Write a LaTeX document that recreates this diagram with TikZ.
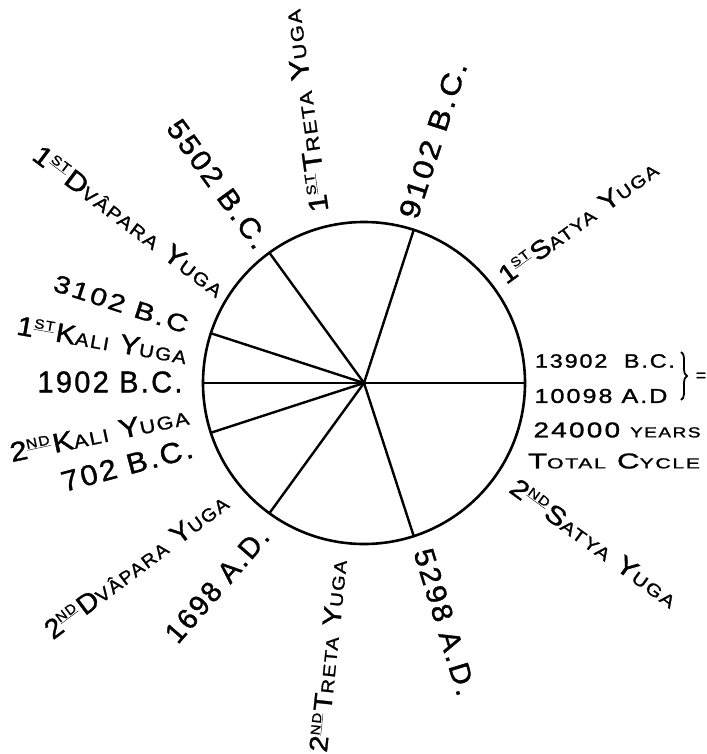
\documentclass[tikz,border=0pt]{standalone}
\usepackage{fontspec}
\usepackage{graphicx}
\setmainfont[LetterSpace=8, FakeBold=1.2]{Liberation Sans}
\usetikzlibrary{decorations.pathreplacing}
\newcommand\lbx[3]{\resizebox{#1pt}{#2pt}{\fontsize{28}{28}\selectfont #3}}
\newcommand\sC[1]{{\fontsize{19}{19}\selectfont #1}}
\newcommand\sUp[1]{\raisebox{10pt}{\fontsize{14}{14}\selectfont\underline{#1}}\kern2pt}
\tikzset{
  lbl/.style={inner sep=0pt, outer sep=0pt, anchor=center},
  ring/.style={circle, draw, line width=2.6pt, minimum size=322pt, inner sep=0pt, outer sep=0pt},
  spoke/.style={line width=2.4pt, line cap=round},
  bracestyle/.style={line width=1.8pt, decorate, decoration={brace, amplitude=6pt}}
}
\begin{document}
\begin{tikzpicture}[x=1pt, y=-1pt]
\useasboundingbox (0,0) rectangle (706,754);
\fill[white] (0,0) rectangle (706,754);
\node[ring] (O) at (364,383) {};
\foreach \a in {0,72,126,162,180,198,234,288}
  \draw[spoke] (O.center) -- (O.\a);

\node[lbl, rotate=98]  (tr1)   at (305,111) {\lbx{204}{19}{1\sUp{ST}T\sC{RETA} Y\sC{UGA}}};
\node[lbl, rotate=72]  (d9102) at (433,140) {\lbx{163}{20}{9102 B.C.}};
\node[lbl, rotate=-54] (d5502) at (218,184) {\lbx{152}{20}{5502 B.C.}};
\node[lbl, rotate=-37] (dv1)   at (129,221) {\lbx{232}{19}{1\sUp{ST}D\sC{VÂPARA} Y\sC{UGA}}};
\node[lbl, rotate=-18] (d3102) at (121,304) {\lbx{140}{17}{3102 B.C}};
\node[lbl, rotate=-10] (ka1)   at (102,340) {\lbx{172}{19}{1\sUp{ST}K\sC{ALI} Y\sC{UGA}}};
\node[lbl]             (d1902) at (110,382) {\lbx{145}{21}{1902 B.C.}};
\node[lbl, rotate=12]  (ka2)   at (99,434)  {\lbx{182}{19}{2\sUp{ND}K\sC{ALI} Y\sC{UGA}}};
\node[lbl, rotate=15]  (d702)  at (127,465) {\lbx{135}{20}{702 B.C.}};
\node[lbl, rotate=37]  (dv2)   at (136,566) {\lbx{222}{19}{2\sUp{ND}D\sC{VÂPARA} Y\sC{UGA}}};
\node[lbl, rotate=49]  (d1698) at (217,585) {\lbx{142}{20}{1698 A.D.}};
\node[lbl, rotate=84]  (tr2)   at (328,656) {\lbx{193}{18}{2\sUp{ND}T\sC{RETA} Y\sC{UGA}}};
\node[lbl, rotate=-73] (d5298) at (445,622) {\lbx{152}{20}{5298 A.D.}};
\node[lbl, rotate=-36] (sa2)   at (594,543) {\lbx{200}{18}{2\sUp{ND}S\sC{ATYA} Y\sC{UGA}}};
\node[lbl, rotate=36]  (sa1)   at (578,222) {\lbx{190}{18}{1\sUp{ST}S\sC{ATYA} Y\sC{UGA}}};

\node[lbl] (b1)  at (605,361) {\lbx{140}{13.5}{13902\ \ B.C.}};
\node[lbl] (b2)  at (601,396) {\lbx{133}{14}{10098 A.D}};
\node[lbl] (tot) at (617,430) {\lbx{167}{15}{24000 \sC{YEARS}}};
\node[lbl] (cyc) at (614,461) {\lbx{172}{15}{T\sC{OTAL} C\sC{YCLE}}};
\coordinate (bt) at (681,352);
\coordinate (bb) at (681,400);
\draw[bracestyle] (bt) -- (bb);
\node[lbl, font=\fontsize{18}{18}\selectfont] (eq) at (701,377) {=};
\end{tikzpicture}
\end{document}
